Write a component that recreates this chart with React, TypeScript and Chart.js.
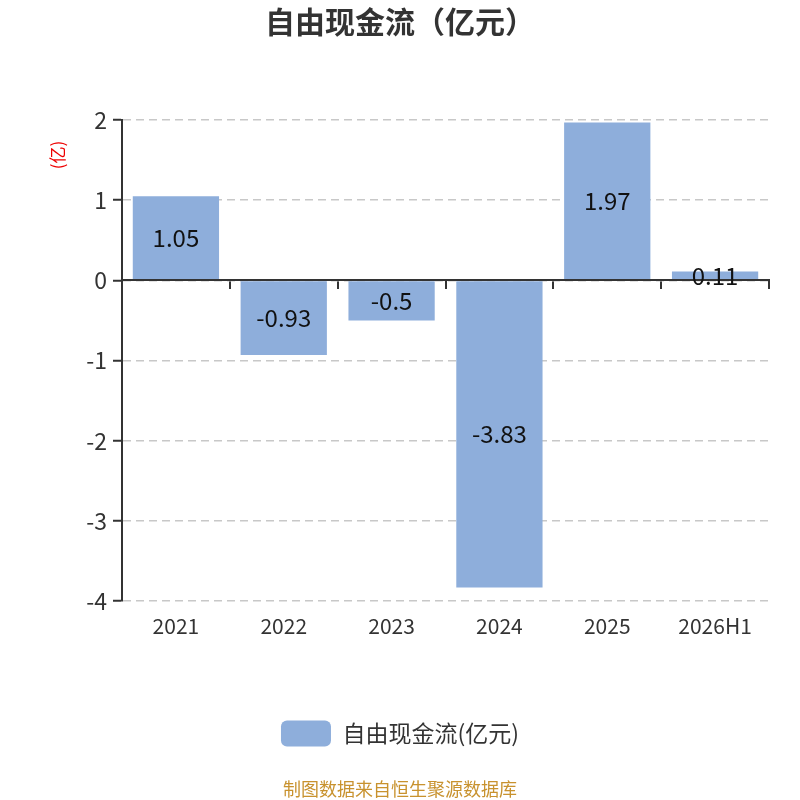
import { useEffect, useRef } from 'react';
import { Chart, registerables, Plugin } from 'chart.js';

Chart.register(...registerables);

const FONT = '"Noto Sans CJK SC", "Noto Sans", sans-serif';

const CATEGORIES = ['2021', '2022', '2023', '2024', '2025', '2026H1'];
const FREE_CASH_FLOW = [1.05, -0.93, -0.5, -3.83, 1.97, 0.11];
const Y_MIN = -4;
const Y_MAX = 2;

const SERIES_NAME = '自由现金流(亿元)';
const TITLE = '自由现金流（亿元）';
const Y_TITLE = '(亿)';
const SOURCE = '制图数据来自恒生聚源数据库';

// value labels in the middle of each bar
const barLabels: Plugin<'bar'> = {
  id: 'barLabels',
  afterDraw(chart) {
    const { ctx } = chart;
    const meta = chart.getDatasetMeta(0);
    ctx.save();
    ctx.font = `24px ${FONT}`;
    ctx.fillStyle = '#111';
    ctx.textAlign = 'center';
    ctx.textBaseline = 'middle';
    meta.data.forEach((bar, i) => {
      const { x, y, base } = bar.getProps(['x', 'y', 'base'], true) as any;
      ctx.fillText(String(FREE_CASH_FLOW[i]), x, (y + base) / 2);
    });
    ctx.restore();
  },
};

// small red unit label near the top of the y axis
const yUnit: Plugin<'bar'> = {
  id: 'yUnit',
  afterDraw(chart) {
    const { ctx, chartArea } = chart;
    ctx.save();
    ctx.translate(58, chartArea.top + 35);
    ctx.rotate(-Math.PI / 2);
    ctx.font = `17px ${FONT}`;
    ctx.fillStyle = '#ee0000';
    ctx.textAlign = 'center';
    ctx.textBaseline = 'middle';
    ctx.fillText(Y_TITLE, 0, 0);
    ctx.restore();
  },
};

export default function App() {
  const canvasRef = useRef<HTMLCanvasElement>(null);

  useEffect(() => {
    if (!canvasRef.current) return;
    Chart.defaults.font.family = FONT;

    const chart = new Chart(canvasRef.current, {
      type: 'bar',
      data: {
        labels: CATEGORIES,
        datasets: [
          {
            label: SERIES_NAME,
            data: FREE_CASH_FLOW,
            backgroundColor: '#8eaedb',
            borderWidth: 0,
            barPercentage: 1,
            categoryPercentage: 0.8,
            xAxisID: 'x',
            yAxisID: 'y',
          },
        ],
      },
      options: {
        responsive: false,
        animation: false,
        layout: { padding: 0 },
        plugins: {
          title: {
            display: true,
            text: TITLE,
            color: '#333',
            font: { size: 30, weight: 'bold' },
            padding: { top: 4, bottom: 80 },
          },
          legend: {
            position: 'bottom',
            labels: {
              boxWidth: 50,
              boxHeight: 26,
              useBorderRadius: true,
              borderRadius: 6,
              color: '#333',
              font: { size: 23 },
              padding: 78,
            },
          },
          subtitle: {
            display: true,
            position: 'bottom',
            text: SOURCE,
            color: '#c8922e',
            font: { size: 18 },
            padding: { top: 22, bottom: 0 },
          },
          tooltip: { enabled: false },
        },
        scales: {
          x: {
            type: 'category',
            offset: true,
            grid: { display: false },
            border: { display: false },
            ticks: { color: '#333', font: { size: 21 }, padding: 4 },
          },
          x2: {
            type: 'category',
            axis: 'x',
            labels: CATEGORIES,
            position: { y: 0 },
            offset: true,
            grid: {
              offset: true,
              drawOnChartArea: false,
              drawTicks: true,
              tickLength: 8,
              color: '#333',
              lineWidth: 2,
            },
            border: { display: true, color: '#333', width: 2, z: 1 },
            ticks: { display: false },
          },
          y: {
            min: Y_MIN,
            max: Y_MAX,
            ticks: { stepSize: 1, color: '#333', font: { size: 23 }, padding: 6 },
            grid: {
              color: '#c8c8c8',
              lineWidth: 1.5,
              tickColor: '#333',
              tickWidth: 2,
              tickLength: 9,
            },
            border: { display: true, color: '#333', width: 2, dash: [8, 5] },
            afterFit: (scale) => {
              scale.width = 122;
            },
          },
          // empty right-hand axis that only reserves the right margin
          yRight: {
            position: 'right',
            min: Y_MIN,
            max: Y_MAX,
            grid: { display: false },
            border: { display: false },
            ticks: { display: false },
            afterFit: (scale) => {
              scale.width = 31;
            },
          },
        },
      },
      plugins: [barLabels, yUnit],
    });

    return () => {
      chart.destroy();
    };
  }, []);

  return (
    <div style={{ position: 'fixed', left: 0, top: 0, width: 800, height: 800, background: '#fff' }}>
      <canvas ref={canvasRef} width={800} height={800} />
    </div>
  );
}
